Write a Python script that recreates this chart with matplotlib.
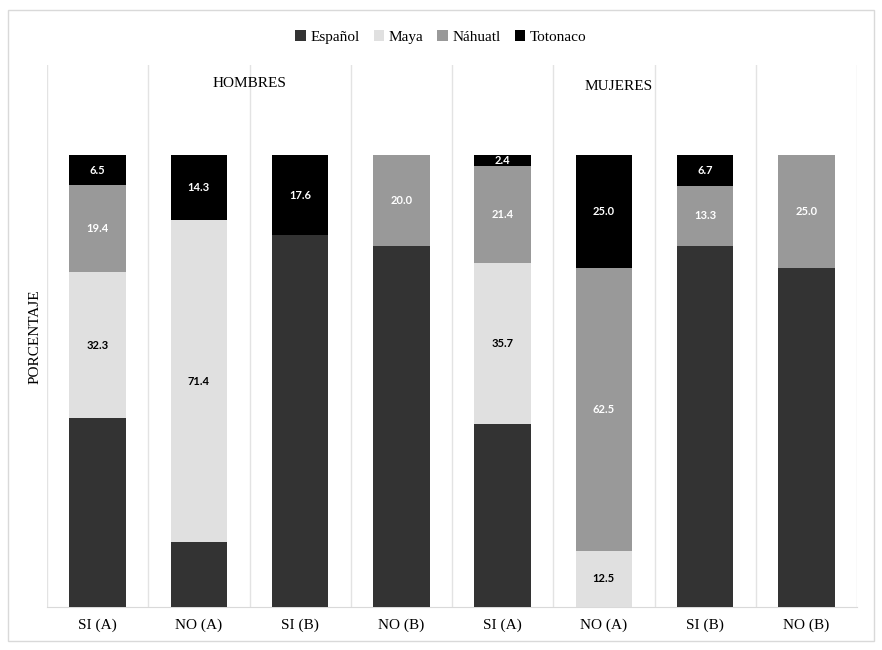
import matplotlib.pyplot as plt
from matplotlib.patches import Rectangle

categories = ["SI (A)", "NO (A)", "SI (B)", "NO (B)", "SI (A)", "NO (A)", "SI (B)", "NO (B)"]
series_names = ["Español", "Maya", "Náhuatl", "Totonaco"]
espanol = [41.8, 14.3, 82.4, 80.0, 40.5, 0.0, 80.0, 75.0]
maya = [32.3, 71.4, 0.0, 0.0, 35.7, 12.5, 0.0, 0.0]
nahuatl = [19.4, 0.0, 0.0, 20.0, 21.4, 62.5, 13.3, 25.0]
totonaco = [6.5, 14.3, 17.6, 0.0, 2.4, 25.0, 6.7, 0.0]
colors = ["#333333", "#e0e0e0", "#999999", "#000000"]
label_colors = [None, "black", "white", "white"]

plt.rcParams['font.family'] = ['Liberation Serif', 'DejaVu Serif']

fig = plt.figure(figsize=(8.82, 6.5), dpi=100)
ax = fig.add_axes([47 / 882, 1 - 607 / 650, 810 / 882, 542 / 650])

x = list(range(len(categories)))
bottom = [0.0] * len(categories)
for name, vals, col, lc in zip(series_names, [espanol, maya, nahuatl, totonaco], colors, label_colors):
    ax.bar(x, vals, width=0.56, bottom=bottom, color=col, label=name, zorder=3)
    if lc is not None:
        for xi, b, v in zip(x, bottom, vals):
            if v > 0:
                ax.text(xi, b + v / 2, f"{v:.1f}", ha='center', va='center', color=lc,
                        fontsize=8, fontweight='bold', family='Lato', zorder=4)
    bottom = [b + v for b, v in zip(bottom, vals)]

ax.set_xlim(-0.5, 7.5)
ax.set_ylim(0, 120)
ax.set_yticks([])
ax.set_xticks(x)
ax.set_xticklabels(categories, fontsize=11)
ax.tick_params(axis='x', length=0, pad=8)
for s in ["top", "right", "left"]:
    ax.spines[s].set_visible(False)
ax.spines["bottom"].set_color("#d9d9d9")
for gx in [i - 0.5 for i in range(9)]:
    ax.axvline(gx, color="#e3e3e3", lw=1, zorder=1)

ax.text(1.5, 116, "HOMBRES", ha='center', va='center', fontsize=11)
ax.text(5.15, 115.3, "MUJERES", ha='center', va='center', fontsize=11)
fig.text(35 / 882, 1 - 337 / 650, "PORCENTAJE", rotation=90, ha='center', va='center', fontsize=11)

fig.legend(loc='center', bbox_to_anchor=(441 / 882, 1 - 37 / 650), ncol=4, frameon=False,
           fontsize=11, handlelength=0.7, handleheight=0.7, handletextpad=0.3, columnspacing=0.9)

fig.patches.append(Rectangle((8 / 882, 1 - 641 / 650), 866 / 882, 631 / 650, transform=fig.transFigure,
                             fill=False, edgecolor="#d9d9d9", lw=1))

fig.savefig("out.png", dpi=100)
